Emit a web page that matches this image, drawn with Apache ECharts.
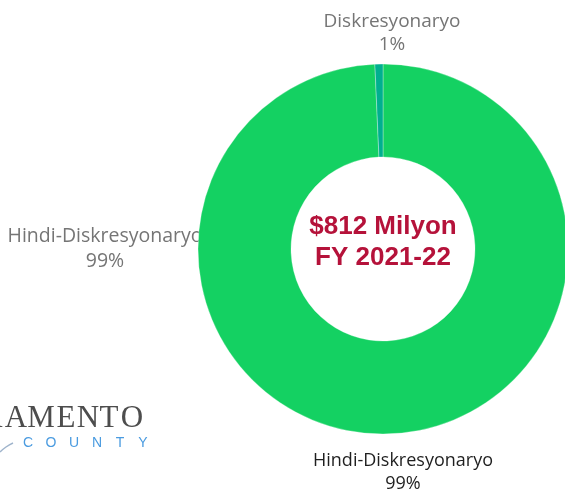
<!DOCTYPE html>
<html>
<head>
<meta charset="utf-8">
<script src="https://cdn.jsdelivr.net/npm/echarts@6/dist/echarts.min.js"></script>
<style>html,body{margin:0;padding:0;background:#fff}#c{width:565px;height:489px}</style>
</head>
<body>
<div id="c"></div>
<script>
var categories = ['Hindi-Diskresyonaryo', 'Diskresyonaryo'];
var values = [99.3, 0.7];
var colors = ['#14D162', '#00B08F'];
var centerLines = ['$812 Milyon', 'FY 2021-22'];
var logoWords = ['RAMENTO', 'COUNTY'];

var total = values.reduce(function (a, b) { return a + b; }, 0);
function pct(v) { return Math.round(v / total * 100) + '%'; }

var chart = echarts.init(document.getElementById('c'), null, { renderer: 'canvas' });
var labelPos = [
  { x: 403, y: 472, color: '#1f1f1f', size: 18 },
  { x: 392, y: 33, color: '#757575', size: 19 }
];
var labelFont = '"Open Sans", Roboto, sans-serif';

var graphics = [
  {
    type: 'text', x: 105, y: 249,
    style: {
      text: categories[0] + '\n' + pct(values[0]),
      fill: '#757575', font: '19.5px ' + labelFont, lineHeight: 25,
      align: 'center', verticalAlign: 'middle'
    }
  },
  {
    type: 'text', x: 383, y: 242,
    style: {
      text: centerLines.join('\n'),
      fill: '#B5123A', font: 'bold 26px "Liberation Sans", Arial', lineHeight: 31,
      align: 'center', verticalAlign: 'middle'
    }
  },
  {
    type: 'polyline',
    shape: { points: [[0, 452], [6, 447], [13, 443]], smooth: 0.5 },
    style: { stroke: '#9fb4cc', lineWidth: 1.5, fill: null }
  }
];
var serifCenters = [-8, 16, 41, 66, 88, 109, 132];
logoWords[0].split('').forEach(function (ch, i) {
  graphics.push({
    type: 'text', x: serifCenters[i], y: 419,
    style: {
      text: ch, fill: '#4d4d4d', font: '31px "Liberation Serif", serif',
      align: 'center', verticalAlign: 'middle'
    }
  });
});
logoWords[1].split('').forEach(function (ch, i) {
  graphics.push({
    type: 'text', x: 28 + i * 23, y: 443,
    style: {
      text: ch, fill: '#4A9BE0', font: '14px "Liberation Sans", Arial',
      align: 'center', verticalAlign: 'middle'
    }
  });
});

chart.setOption({
  animation: false,
  series: [{
    type: 'pie',
    center: [383, 249],
    radius: [92, 185],
    startAngle: 90,
    clockwise: true,
    percentPrecision: 0,
    avoidLabelOverlap: false,
    silent: true,
    data: categories.map(function (c, i) {
      return {
        name: c, value: values[i],
        itemStyle: { color: colors[i] },
        label: { color: labelPos[i].color, fontSize: labelPos[i].size }
      };
    }),
    itemStyle: { borderColor: 'rgba(255,255,255,0.6)', borderWidth: 0.5 },
    label: {
      show: true,
      position: 'outside',
      formatter: '{b}\n{d}%',
      fontFamily: 'Open Sans',
      fontSize: 18,
      lineHeight: 23,
      align: 'center'
    },
    labelLine: { show: false },
    labelLayout: function (p) {
      var lp = labelPos[p.dataIndex];
      return { x: lp.x, y: lp.y, align: 'center', verticalAlign: 'middle' };
    }
  }],
  graphic: graphics
});
</script>
</body>
</html>
